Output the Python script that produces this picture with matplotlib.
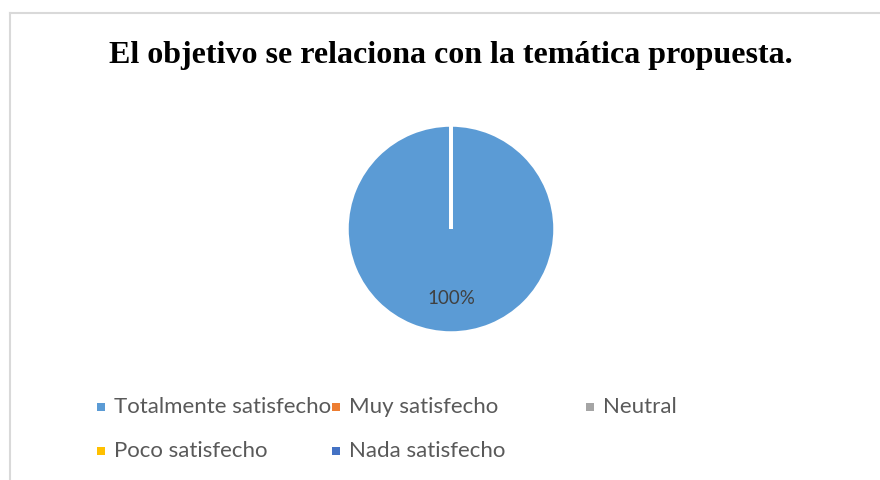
import matplotlib.pyplot as plt
from matplotlib.lines import Line2D
from matplotlib.patches import Rectangle

# data
categories = ["Totalmente satisfecho", "Muy satisfecho", "Neutral",
              "Poco satisfecho", "Nada satisfecho"]
percent = [100, 0, 0, 0, 0]
colors = ["#5B9BD5", "#ED7D31", "#A5A5A5", "#FFC000", "#4472C4"]
title = "El objetivo se relaciona con la temática propuesta."

# legend layout (pixels, from top-left)
leg_x = [101, 336, 590, 101, 336]
leg_y = [407, 407, 407, 451, 451]

W, H = 880, 480
fig = plt.figure(figsize=(W / 100, H / 100), dpi=100)

# frame (only top and left edge visible in the reference)
fig.add_artist(Line2D([10 / W, 10 / W], [0, 1 - 13 / H], color="#d9d9d9", lw=1.5))
fig.add_artist(Line2D([10 / W, 1], [1 - 13 / H, 1 - 13 / H], color="#d9d9d9", lw=1.5))

fig.text(451 / W, 1 - 56 / H, title, ha="center", va="center",
         fontsize=23, fontweight="bold", family="Liberation Serif", color="black")

# pie
cx, cy, r = 451, 229, 104
ax = fig.add_axes([(cx - r) / W, 1 - (cy + r) / H, 2 * r / W, 2 * r / H])
wedges, texts, autotexts = ax.pie(
    percent, colors=colors, startangle=90, counterclock=False,
    autopct=lambda p: "%d%%" % round(p) if p > 0 else "",
    pctdistance=0.67,
    wedgeprops=dict(edgecolor="white", linewidth=2.5),
    textprops=dict(color="#404040", fontsize=13.5, family="Lato"))
ax.set_aspect("equal")
ax.set_xlim(-1, 1)
ax.set_ylim(-1, 1)
ax.axis("off")

# legend
for name, col, lx, ly in zip(categories, colors, leg_x, leg_y):
    fig.add_artist(Rectangle(((lx - 4) / W, 1 - (ly + 4) / H), 8 / W, 8 / H,
                             transform=fig.transFigure, color=col, lw=0))
    fig.text((lx + 13) / W, 1 - ly / H, name, ha="left", va="center",
             fontsize=16, family="Lato", color="#595959")

fig.savefig("out.png", dpi=100, facecolor="white")
